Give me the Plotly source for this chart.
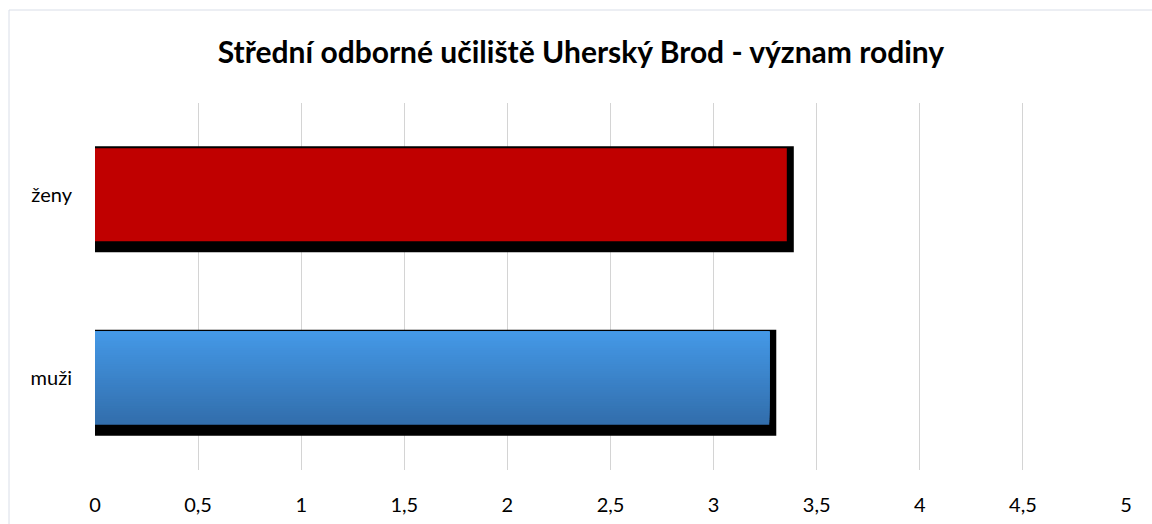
import plotly.graph_objects as go

categories = ["muži", "ženy"]
values = [3.27, 3.355]
title_text = "Střední odborné učiliště Uherský Brod - význam rodiny"
tick_vals = [0, 0.5, 1, 1.5, 2, 2.5, 3, 3.5, 4, 4.5, 5]

W, H = 1152, 524
L, R, T, B = 95, 26, 103, 54
pw = W - L - R
ph = H - T - B
ux = pw / 5.0          # px per unit on x
uy = ph / 2.0          # px per category

bar_w = 93 / uy
bar_off = -bar_w / 2
sh_top = bar_w / 2 + 2 / uy
sh_bot = -bar_w / 2 - 11 / uy
sh_dx = 7 / ux

fig = go.Figure()

# shadows
fig.add_trace(go.Bar(
    y=categories, x=[v + sh_dx for v in values], orientation="h",
    offset=sh_bot, width=sh_top - sh_bot,
    marker=dict(color="#000000", line=dict(width=0)),
    hoverinfo="skip", showlegend=False,
))

# ženy solid red
fig.add_trace(go.Bar(
    y=[categories[1]], x=[values[1]], orientation="h",
    offset=bar_off, width=bar_w,
    marker=dict(color="#C00000", line=dict(width=0)),
    showlegend=False,
))

# muži gradient (overlapping layers, bottom -> top)
N = 40
top_c = (68, 152, 230)
bot_c = (50, 110, 172)
sw = bar_w / N
for i in range(N):
    t = i / (N - 1)
    c = tuple(round(bot_c[k] + (top_c[k] - bot_c[k]) * t) for k in range(3))
    fig.add_trace(go.Bar(
        y=[categories[0]], x=[values[0]], orientation="h",
        offset=bar_off + i * sw, width=bar_w - i * sw,
        marker=dict(color="rgb(%d,%d,%d)" % c, line=dict(width=0)),
        showlegend=False, hoverinfo="skip" if i else None,
    ))

FONT = "Lato, Open Sans, sans-serif"
fig.update_layout(
    width=W, height=H,
    margin=dict(l=L, r=R, t=T, b=B, autoexpand=False),
    barmode="overlay",
    separators=", ",
    paper_bgcolor="white", plot_bgcolor="white",
    font=dict(family=FONT, color="#000000", size=20),
    title=dict(text="<b>" + title_text + "</b>", x=581 / W, xref="container",
               xanchor="center", y=1 - 52 / H, yref="container", yanchor="middle",
               font=dict(size=30, family=FONT, color="#000000")),
    xaxis=dict(range=[0, 5], tickvals=tick_vals,
               ticktext=[("%g" % v).replace(".", ",") for v in tick_vals],
               showgrid=True, gridcolor="#D4D4D4", gridwidth=1, zeroline=False,
               showline=False, ticks="", ticklabelstandoff=21, fixedrange=True,
               automargin=False, tickfont=dict(size=20)),
    yaxis=dict(categoryorder="array", categoryarray=categories, showgrid=False,
               zeroline=False, showline=False, ticks="", ticklabelstandoff=22,
               range=[-0.5, 1.5], automargin=False, tickfont=dict(size=20)),
    shapes=[dict(type="rect", xref="paper", yref="paper",
                 x0=(9 - L) / pw, x1=(W + 60 - L) / pw,
                 y0=-(B + 60) / ph, y1=(H - B - 10) / ph,
                 line=dict(color="#D9DEE8", width=1), fillcolor="rgba(0,0,0,0)",
                 layer="below")],
)

fig.write_html(
    "out.html",
    config={"displayModeBar": False},
    post_script="document.body.style.margin='0';document.body.style.overflow='hidden';"
                "document.documentElement.style.overflow='hidden';",
)
